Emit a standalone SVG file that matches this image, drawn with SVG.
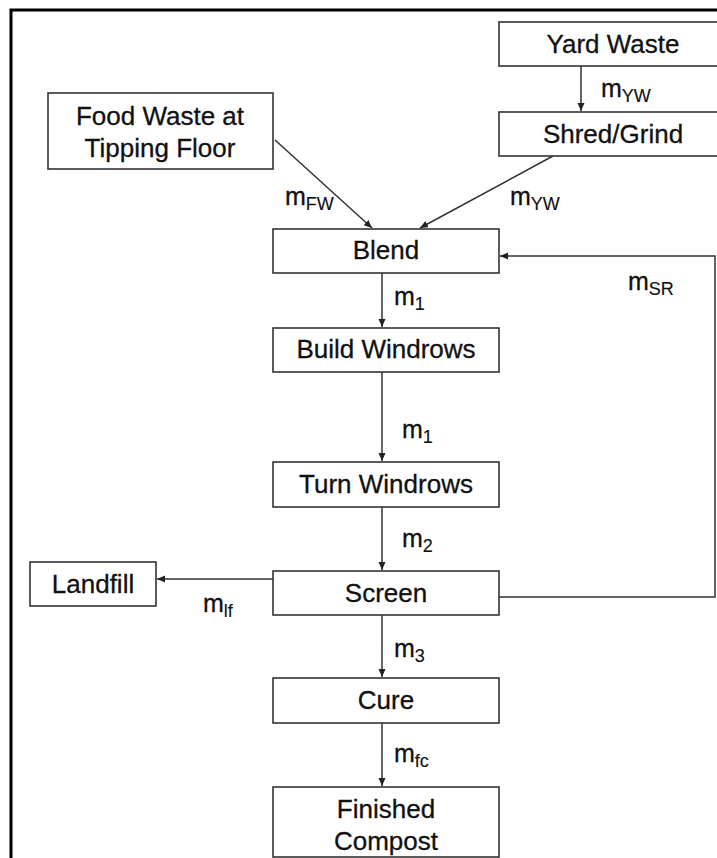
<svg xmlns="http://www.w3.org/2000/svg" width="717" height="858" viewBox="0 0 717 858">
<style>
.box{fill:#fff;stroke:#333;stroke-width:1.6}
.t{font-family:"Liberation Sans",Arial,sans-serif;font-size:26px;fill:#111;stroke:#111;stroke-width:0.3;text-anchor:middle}
.m{font-family:"Liberation Sans",Arial,sans-serif;font-size:25px;fill:#111;stroke:#111;stroke-width:0.3}
.sub{font-size:18px;stroke-width:0.15}
.c{fill:none;stroke:#333;stroke-width:1.5}
</style>
<defs>
<marker id="ah" markerUnits="userSpaceOnUse" markerWidth="9" markerHeight="8" refX="8" refY="3.5" orient="auto">
<path d="M0,0 L8,3.5 L0,7 z" fill="#222"/>
</marker>
</defs>
<rect x="0" y="0" width="717" height="858" fill="#fff"/>
<path d="M11,858 V10 H717" fill="none" stroke="#000" stroke-width="3"/>
<g id="connectors">
<line class="c" x1="581" y1="66" x2="581" y2="111" marker-end="url(#ah)"/>
<line class="c" x1="275" y1="140" x2="372" y2="228" marker-end="url(#ah)"/>
<line class="c" x1="553" y1="156" x2="420" y2="228" marker-end="url(#ah)"/>
<line class="c" x1="382" y1="273" x2="382" y2="327" marker-end="url(#ah)"/>
<line class="c" x1="382" y1="372" x2="382" y2="461" marker-end="url(#ah)"/>
<line class="c" x1="382" y1="507" x2="382" y2="570" marker-end="url(#ah)"/>
<line class="c" x1="273" y1="579" x2="157" y2="579" marker-end="url(#ah)"/>
<polyline class="c" points="499,597 715,597 715,256 500,256" marker-end="url(#ah)"/>
<line class="c" x1="382" y1="615" x2="382" y2="677" marker-end="url(#ah)"/>
<line class="c" x1="382" y1="723" x2="382" y2="786" marker-end="url(#ah)"/>
<text class="m" x="601" y="97">m<tspan class="sub" dy="5">YW</tspan></text>
<text class="m" x="285" y="205">m<tspan class="sub" dy="5">FW</tspan></text>
<text class="m" x="510" y="205">m<tspan class="sub" dy="5">YW</tspan></text>
<text class="m" x="628" y="290">m<tspan class="sub" dy="5">SR</tspan></text>
<text class="m" x="394" y="305">m<tspan class="sub" dy="5">1</tspan></text>
<text class="m" x="402" y="438">m<tspan class="sub" dy="5">1</tspan></text>
<text class="m" x="402" y="547">m<tspan class="sub" dy="5">2</tspan></text>
<text class="m" x="203" y="612">m<tspan class="sub" dy="5">lf</tspan></text>
<text class="m" x="394" y="657">m<tspan class="sub" dy="5">3</tspan></text>
<text class="m" x="394" y="762">m<tspan class="sub" dy="5">fc</tspan></text>
</g>
<g id="yard"><rect class="box" x="499" y="22" width="228" height="44"/><text class="t" x="613" y="53">Yard Waste</text></g>
<g id="shred"><rect class="box" x="499" y="112" width="228" height="44"/><text class="t" x="613" y="143">Shred/Grind</text></g>
<g id="food"><rect class="box" x="48" y="93" width="225" height="76"/><text class="t" x="160" y="125">Food Waste at</text><text class="t" x="160" y="157">Tipping Floor</text></g>
<g id="blend"><rect class="box" x="273" y="229" width="226" height="44"/><text class="t" x="386" y="259">Blend</text></g>
<g id="build"><rect class="box" x="273" y="328" width="226" height="44"/><text class="t" x="386" y="358">Build Windrows</text></g>
<g id="turn"><rect class="box" x="273" y="462" width="226" height="45"/><text class="t" x="386" y="493">Turn Windrows</text></g>
<g id="screen"><rect class="box" x="273" y="571" width="226" height="44"/><text class="t" x="386" y="602">Screen</text></g>
<g id="landfill"><rect class="box" x="30" y="562" width="126" height="44"/><text class="t" x="93" y="593">Landfill</text></g>
<g id="cure"><rect class="box" x="273" y="678" width="226" height="45"/><text class="t" x="386" y="709">Cure</text></g>
<g id="finished"><rect class="box" x="273" y="787" width="226" height="70"/><text class="t" x="386" y="818">Finished</text><text class="t" x="386" y="850">Compost</text></g>
</svg>
